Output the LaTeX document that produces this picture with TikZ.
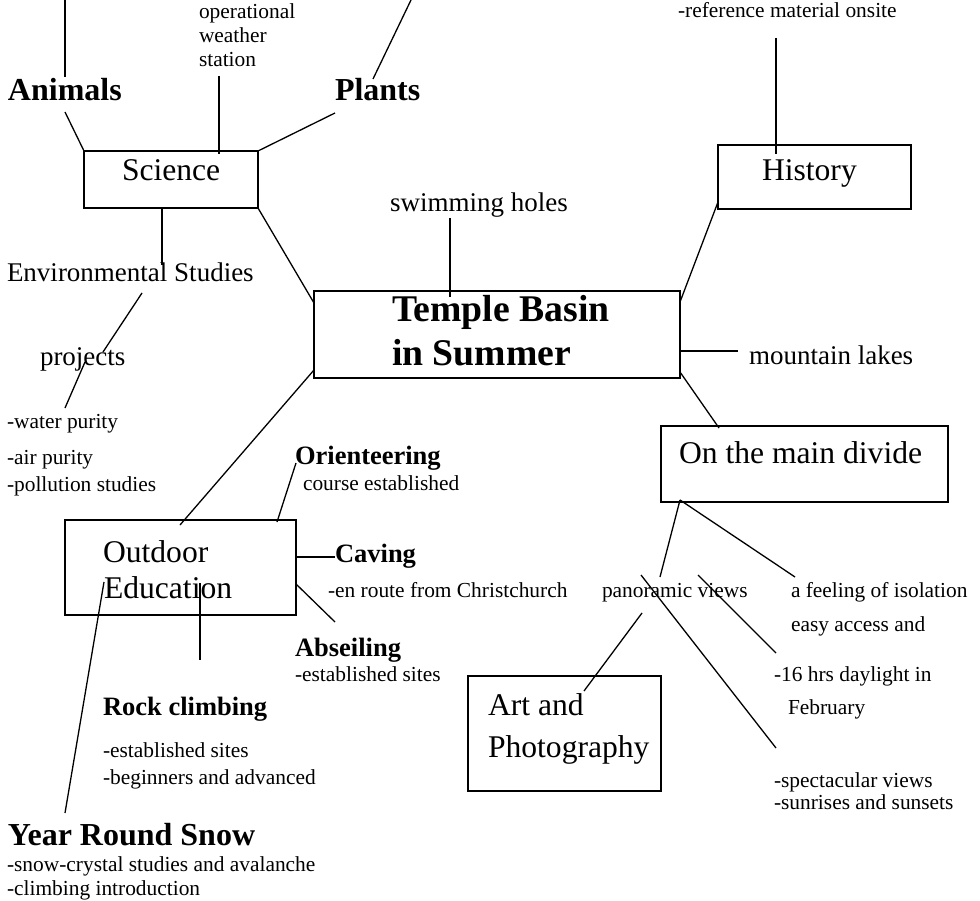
\documentclass[tikz,border=0pt]{standalone}
\usepackage{fontspec}
\setmainfont{Liberation Serif}
\begin{document}
\begin{tikzpicture}[x=1pt,y=-1pt,
  txt/.style={anchor=base west, inner sep=0pt, outer sep=0pt},
  small/.style={txt, font=\fontsize{21.4}{24}\selectfont},
  med/.style={txt, font=\fontsize{27}{30}\selectfont},
  boxtxt/.style={txt, font=\fontsize{31.6}{36}\selectfont},
  bighead/.style={txt, font=\fontsize{32}{36}\selectfont\bfseries},
  subhead/.style={txt, font=\fontsize{26.5}{30}\selectfont\bfseries},
  titletxt/.style={txt, font=\fontsize{37.7}{42}\selectfont\bfseries},
  box/.style={draw, line width=1.8pt, anchor=north west, inner sep=0pt, outer sep=0pt},
  link/.style={line width=1.3pt}]
\useasboundingbox (0,0) rectangle (980,901);

% ---------- boxes ----------
\node[box, minimum width=174pt, minimum height=57pt] (sci) at (84,151) {};
\node[box, minimum width=193pt, minimum height=64pt] (hist) at (718,145) {};
\node[box, minimum width=366pt, minimum height=87pt] (temple) at (314,291) {};
\node[box, minimum width=287pt, minimum height=76pt] (divide) at (661,426) {};
\node[box, minimum width=231pt, minimum height=95pt] (outdoor) at (65,520) {};
\node[box, minimum width=193pt, minimum height=115pt] (art) at (468,676) {};

% ---------- box texts ----------
\node[boxtxt] (scit) at (122,181) {Science};
\node[boxtxt] (histt) at (762,181) {History};
\node[titletxt] (temt1) at (392,322) {Temple Basin};
\node[titletxt] (temt2) at (392,365) {in Summer};
\node[boxtxt] (divt) at (679,463) {On the main divide};
\node[boxtxt] (outt1) at (103,562) {Outdoor};
\node[boxtxt] (outt2) at (104,598) {Education};
\node[boxtxt] (artt1) at (488,715) {Art and};
\node[boxtxt] (artt2) at (488,757) {Photography};

% ---------- headings ----------
\node[bighead] (anim) at (8,101) {Animals};
\node[bighead] (plants) at (335,101) {Plants};
\node[bighead] (snow) at (8,845) {Year Round Snow};
\node[subhead] (orient) at (295,464) {Orienteering};
\node[subhead] (caving) at (335,562) {Caving};
\node[subhead] (abseil) at (295,656) {Abseiling};
\node[subhead] (rock) at (103,715) {Rock climbing};

% ---------- medium texts ----------
\node[med] (swim) at (390,212) {swimming holes};
\node[med] (env) at (7,282) {Environmental Studies};
\node[med] (proj) at (40,365) {projects};
\node[med] (lakes) at (749,364) {mountain lakes};

% ---------- small texts ----------
\node[small] (op1) at (199,19) {operational};
\node[small] (op2) at (199,43) {weather};
\node[small] (op3) at (199,67) {station};
\node[small] (ref) at (678,18) {-reference material onsite};
\node[small] (water) at (7,428) {-water purity};
\node[small] (air) at (7,464) {-air purity};
\node[small] (poll) at (7,491) {-pollution studies};
\node[small] (course) at (303,490) {course established};
\node[small] (enroute) at (328,597) {-en route from Christchurch};
\node[small] (abs2) at (295,681) {-established sites};
\node[small] (rock2) at (103,757) {-established sites};
\node[small] (rock3) at (103,784) {-beginners and advanced};
\node[small] (pano) at (602,597) {panoramic views};
\node[small] (isol) at (791,597) {a feeling of isolation};
\node[small] (easy) at (791,631) {easy access and};
\node[small] (day) at (774,681) {-16 hrs daylight in};
\node[small] (feb) at (788,714) {February};
\node[small] (spec) at (774,787) {-spectacular views};
\node[small] (sun) at (774,809) {-sunrises and sunsets};
\node[small] (snow2) at (7,871) {-snow-crystal studies and avalanche};
\node[small] (snow3) at (7,895) {-climbing introduction};

% ---------- connector end points ----------
\coordinate (topA) at (65,0);
\coordinate (animT) at (65,77);
\coordinate (topP) at (411,0);
\coordinate (plantT) at (373,79);
\coordinate (animB) at (65,112);
\coordinate (plantB) at (335,113);
\coordinate (opB) at (219,76);
\coordinate (sciT) at (219,154);
\coordinate (sciB) at (162,208);
\coordinate (envT) at (162,265);
\coordinate (envB) at (142,293);
\coordinate (projT) at (103,352);
\coordinate (projB) at (85,362);
\coordinate (waterT) at (65,408);
\coordinate (temTL) at (314,303);
\coordinate (swimB) at (450,218);
\coordinate (temT) at (450,297);
\coordinate (temTR) at (680,302);
\coordinate (histBL) at (718,202);
\coordinate (refB) at (776,38);
\coordinate (histT) at (776,154);
\coordinate (temR) at (680,351);
\coordinate (lakesL) at (738,351);
\coordinate (temBR) at (680,372);
\coordinate (divT) at (719,428);
\coordinate (divB) at (680,500);
\coordinate (panoT) at (660,577);
\coordinate (isolT) at (795,577);
\coordinate (crossA) at (641,575);
\coordinate (specT) at (776,748);
\coordinate (crossB) at (698,575);
\coordinate (dayT) at (776,653);
\coordinate (panoB) at (642,613);
\coordinate (artT) at (584,691);
\coordinate (temBL) at (314,370);
\coordinate (outT) at (180,525);
\coordinate (orientB) at (296,463);
\coordinate (outTR) at (277,522);
\coordinate (outR1) at (296,557);
\coordinate (cavingL) at (335,557);
\coordinate (outR2) at (296,584);
\coordinate (abseilT) at (335,622);
\coordinate (outI) at (200,583);
\coordinate (rockT) at (200,660);
\coordinate (outE) at (104,582);
\coordinate (snowT) at (65,813);

% ---------- connectors ----------
\draw[link] (topA) -- (animT);
\draw[link] (topP) -- (plantT);
\draw[link] (opB) -- (sciT);
\draw[link] (animB) -- (sci.north west);
\draw[link] (plantB) -- (sci.north east);
\draw[link] (sciB) -- (envT);
\draw[link] (sci.south east) -- (temTL);
\draw[link] (envB) -- (projT);
\draw[link] (projB) -- (waterT);
\draw[link] (swimB) -- (temT);
\draw[link] (temTR) -- (histBL);
\draw[link] (refB) -- (histT);
\draw[link] (temR) -- (lakesL);
\draw[link] (temBR) -- (divT);
\draw[link] (divB) -- (panoT);
\draw[link] (divB) -- (isolT);
\draw[link] (crossA) -- (specT);
\draw[link] (crossB) -- (dayT);
\draw[link] (panoB) -- (artT);
\draw[link] (temBL) -- (outT);
\draw[link] (orientB) -- (outTR);
\draw[link] (outR1) -- (cavingL);
\draw[link] (outR2) -- (abseilT);
\draw[link] (outI) -- (rockT);
\draw[link] (outE) -- (snowT);
\end{tikzpicture}
\end{document}
